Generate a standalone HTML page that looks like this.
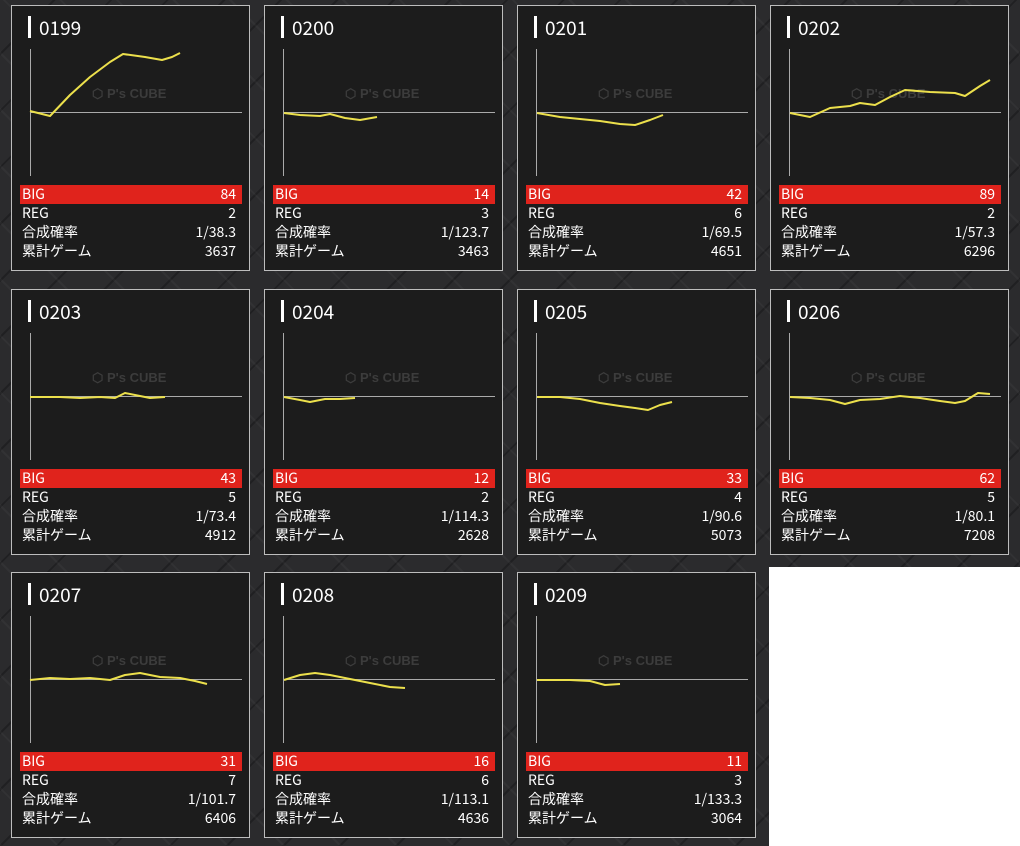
<!DOCTYPE html>
<html><head><meta charset="utf-8"><style>
body{margin:0;width:1020px;height:846px;background:#2b2b2d;position:relative;overflow:hidden;font-family:"Noto Sans CJK JP","Liberation Sans",sans-serif;
background-image:repeating-linear-gradient(45deg,rgba(255,255,255,0.03) 0 2px,transparent 2px 40px),repeating-linear-gradient(-45deg,rgba(0,0,0,0.25) 0 2px,transparent 2px 40px);}
.white{position:absolute;left:769px;top:567px;width:251px;height:279px;background:#fff;}
.card{position:absolute;width:237px;height:264px;border:1px solid #bdbdbd;background:#1c1c1c;color:#fff;}
.bar{position:absolute;left:16px;top:10px;width:3px;height:22px;background:#fff;}
.ttl{position:absolute;left:27px;top:9px;font-size:19px;line-height:26px;}
.vax{position:absolute;left:18px;top:43px;width:1px;height:127px;background:#aaa;}
.hax{position:absolute;left:18px;top:106px;width:212px;height:1px;background:#aaa;}
.wm{position:absolute;left:80px;top:80px;font-size:13px;font-weight:bold;color:#3c3c3c;font-family:"Liberation Sans",sans-serif;}
.row{position:absolute;left:8px;width:222px;height:19px;font-size:14px;line-height:18px;}
.row span{position:absolute;left:2px;}
.row b{position:absolute;right:6px;font-weight:normal;}
.big{background:#e0231c;}
svg{position:absolute;left:0;top:0;}
</style></head><body>
<div class="white"></div>
<div id="c"></div>
<script>
var d=[["0199",84,2,"1/38.3",3637],["0200",14,3,"1/123.7",3463],["0201",42,6,"1/69.5",4651],["0202",89,2,"1/57.3",6296],["0203",43,5,"1/73.4",4912],["0204",12,2,"1/114.3",2628],["0205",33,4,"1/90.6",5073],["0206",62,5,"1/80.1",7208],["0207",31,7,"1/101.7",6406],["0208",16,6,"1/113.1",4636],["0209",11,3,"1/133.3",3064]];
var xs=[12,265,518,771],ys=[5,289,572],h="";
d.forEach(function(r,i){var x=xs[i%4],y=ys[Math.floor(i/4)];
h+='<div class="card" style="left:'+(x-1)+'px;top:'+y+'px"><div class="bar"></div><div class="ttl">'+r[0]+'</div><div class="vax"></div><div class="hax"></div><div class="wm">⬡ P\'s CUBE</div>'+
'<div class="row big" style="top:179px"><span>BIG</span><b>'+r[1]+'</b></div>'+
'<div class="row" style="top:198px"><span>REG</span><b>'+r[2]+'</b></div>'+
'<div class="row" style="top:217px"><span>合成確率</span><b>'+r[3]+'</b></div>'+
'<div class="row" style="top:236px"><span>累計ゲーム</span><b>'+r[4]+'</b></div></div>';});
document.getElementById("c").innerHTML=h;
</script>
<svg width="1020" height="846" fill="none" stroke="#ece04c" stroke-width="2" stroke-linejoin="round">
<polyline points="30,111 50,116 70,95 90,77 110,62 123,54 145,57 162,60 172,57 180,53"/>
<polyline points="284,113 300,115 320,116 330,114 345,118 360,120 377,117"/>
<polyline points="537,113 560,117 580,119 600,121 620,124 635,125 650,120 663,115"/>
<polyline points="790,113 810,117 830,108 850,106 860,103 875,105 890,97 905,90 930,92 955,93 965,96 980,86 990,80"/>
<polyline points="30,397 60,397 80,398 100,397 115,398 125,393 140,396 150,398 165,397"/>
<polyline points="284,397 300,400 310,402 325,399 340,399 355,398"/>
<polyline points="537,397 560,397 580,399 600,403 620,406 635,408 648,410 660,405 672,402"/>
<polyline points="790,397 810,398 830,400 845,404 860,400 880,399 900,396 920,398 940,401 955,403 965,401 978,393 990,394"/>
<polyline points="30,680 50,678 70,679 90,678 110,680 125,675 140,673 160,677 180,678 195,681 207,684"/>
<polyline points="284,680 300,675 315,673 330,675 350,679 370,683 390,687 405,688"/>
<polyline points="537,680 570,680 590,681 605,685 620,684"/>
</svg>
</body></html>
